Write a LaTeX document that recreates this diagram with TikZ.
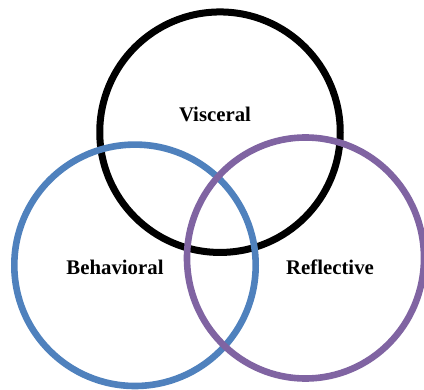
\documentclass[tikz,border=0pt]{standalone}
\usepackage{fontspec}
\setmainfont{Liberation Serif}
\usetikzlibrary{shapes.geometric}
\definecolor{ringblue}{HTML}{4F81BD}
\definecolor{ringpurple}{HTML}{8064A2}
\tikzset{
  ring/.style={draw, fill=none, inner sep=0pt, line width=6.6pt},
  lbl/.style={font=\fontsize{20.8}{24}\selectfont\bfseries, inner sep=0pt, anchor=base}
}
\begin{document}
\begin{tikzpicture}[x=1pt,y=-1pt]
\useasboundingbox[fill=white] (0,0) rectangle (424,390);
\node[ring, circle, draw=black, line width=7pt, minimum size=240.5pt] (visc) at (220,132.2) {};
\node[ring, circle, draw=ringblue, minimum size=241.4pt] (behav) at (135,265.3) {};
\node[ring, ellipse, draw=ringpurple, minimum width=237pt, minimum height=241pt] (refl) at (305.5,258) {};
\node[lbl] (tv) at (215,121.7) {Visceral};
\node[lbl] (tb) at (115,275) {Behavioral};
\node[lbl] (tr) at (330,275) {Reflective};
\end{tikzpicture}
\end{document}
